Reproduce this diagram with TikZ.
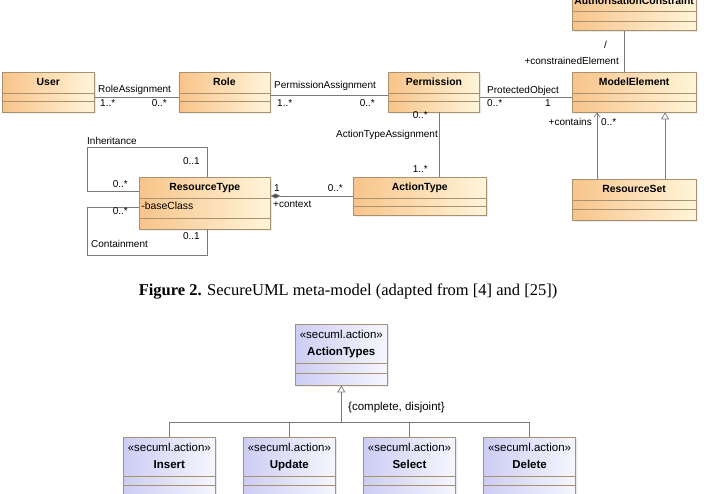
\documentclass[tikz,border=0pt]{standalone}
\usepackage{fontspec}
\setmainfont{Liberation Sans}
\newfontfamily\capfont{Liberation Serif}
\usetikzlibrary{arrows.meta,positioning,shapes.multipart,shadows}

\definecolor{clsOrange}{HTML}{F8C48A}
\definecolor{clsCream}{HTML}{FFF5DA}
\definecolor{clsLilac}{HTML}{CDCDF4}
\definecolor{clsPale}{HTML}{F6F6FF}
\definecolor{clsBorder}{HTML}{A8916F}
\definecolor{lineGray}{HTML}{7A7A7A}

% class body: bold title, two empty compartments
\newcommand{\clsbody}[3]{\rule[-7pt]{0pt}{20pt}\textbf{#1}\nodepart{two}\rule{0pt}{#2}\nodepart{three}\rule{0pt}{#3}}
% stereotyped action class
\newcommand{\actbody}[3]{\begin{tabular}{@{}c@{}}\rule{0pt}{14pt}«secuml.action»\\\rule[-7pt]{0pt}{20.04pt}\textbf{#1}\end{tabular}\nodepart{two}\rule{0pt}{#2}\nodepart{three}\rule{0pt}{#3}}

\begin{document}
\begin{tikzpicture}[x=1pt, y=-1pt,
cls/.style={rectangle split, rectangle split parts=3, rectangle split part align={center,left,center}, draw=clsBorder, line width=0.6pt, left color=clsOrange, right color=clsCream, inner xsep=2pt, inner ysep=0pt, font=\fontsize{10.4}{12}\selectfont, drop shadow={shadow xshift=1.5pt, shadow yshift=-1.5pt, fill=black!18}},
act/.style={cls, left color=clsLilac, right color=clsPale, minimum width=92pt, font=\fontsize{11.5}{13.2}\selectfont},
assoc/.style={draw=lineGray, line width=0.7pt},
gen/.style={assoc, -{Triangle[length=7pt, width=8pt, fill=white]}},
nav/.style={assoc, -{Straight Barb[length=4pt, width=6pt]}},
comp/.style={assoc, {Diamond[length=10pt, width=5pt, fill=black!70]}-},
lbl/.style={anchor=base west, inner sep=0pt, font=\fontsize{10}{12}\selectfont},
lblr/.style={lbl, anchor=base east}
]
\useasboundingbox (0,0) rectangle (704,494);

% SecureUML meta-model
\node[cls, minimum width=92pt, anchor=north west] (user) at (2,72) {\clsbody{User}{8pt}{10pt}};
\node[cls, minimum width=91pt, right=84pt of user] (role) {\clsbody{Role}{8pt}{10pt}};
\node[cls, minimum width=91pt, right=118pt of role] (perm) {\clsbody{Permission}{8pt}{10pt}};
\node[cls, minimum width=124pt, right=92pt of perm] (model) {\clsbody{ModelElement}{8pt}{10pt}};
\node[cls, minimum width=124pt, above=41pt of model] (auth) {\clsbody{AuthorisationConstraint}{9pt}{9pt}};
\node[cls, minimum width=124pt, below=67pt of model] (resset) {\clsbody{ResourceSet}{8pt}{11pt}};
\node[cls, minimum width=131pt, anchor=north west] (restype) at (139,177) {\rule[-7pt]{0pt}{20pt}\textbf{ResourceType}\nodepart{two}\rule[-9pt]{0pt}{20pt}-baseClass\nodepart{three}\rule{0pt}{10pt}};
\node[cls, minimum width=133pt, anchor=north west] (acttype) at (353,177) {\clsbody{ActionType}{8pt}{8pt}};

\draw[assoc] (user.east |- 0,97) -- (role.west |- 0,97);
\draw[assoc] (role.east |- 0,95) -- (perm.west |- 0,95);
\draw[assoc] (perm.east |- 0,97) -- (model.west |- 0,97);
\draw[assoc] ([xshift=-10pt]auth.south) -- ([xshift=-10pt]model.north);
\draw[nav] ([xshift=-37pt]resset.north) -- ([xshift=-37pt]model.south);
\draw[gen] ([xshift=31pt]resset.north) -- ([xshift=31pt]model.south);
\draw[assoc] (perm.south -| 439,0) -- (acttype.north -| 439,0);
\draw[comp] (restype.east |- 0,196) -- (acttype.west |- 0,196);
\draw[assoc] (restype.north -| 207,0) |- (87,147) |- (restype.west |- 0,191);
\draw[assoc] (restype.west |- 0,207) -| (87,255) -| (restype.south -| 207,0);

\node[lbl] (raName) at (98,93) {RoleAssignment};
\node[lbl] (raUser) at (100,107) {1..*};
\node[lblr] (raRole) at (167,107) {0..*};
\node[lbl] (paName) at (274,89) {PermissionAssignment};
\node[lbl] (paRole) at (277,107) {1..*};
\node[lblr] (paPerm) at (375,107) {0..*};
\node[lbl] (poName) at (487,94) {ProtectedObject};
\node[lbl] (poPerm) at (487,107) {0..*};
\node[lblr] (poModel) at (551,107) {1};
\node[lbl] (acSlash) at (604,49) {/};
\node[lblr] (acRole) at (619,65) {+constrainedElement};
\node[lblr] (rsRole) at (592,126) {+contains};
\node[lbl] (rsMult) at (601,126) {0..*};
\node[lblr] (ataPerm) at (428,119) {0..*};
\node[lblr] (ataName) at (438,138) {ActionTypeAssignment};
\node[lblr] (ataAct) at (428,173) {1..*};
\node[lbl] (ctxOne) at (274,192) {1};
\node[lbl] (ctxRole) at (273,208) {+context};
\node[lblr] (ctxMult) at (343,192) {0..*};
\node[lbl] (inhName) at (87,145) {Inheritance};
\node[lblr] (inhTop) at (200,165) {0..1};
\node[lblr] (inhLeft) at (128,188) {0..*};
\node[lblr] (conLeft) at (128,215) {0..*};
\node[lblr] (conBot) at (200,240) {0..1};
\node[lbl] (conName) at (91,248) {Containment};

\node[anchor=base] (caption) at (348,295) {\capfont\fontsize{16.5}{19}\selectfont\textbf{Figure 2.} SecureUML meta-model (adapted from [4] and [25])};

% action type hierarchy
\node[act, anchor=north west] (acttypes) at (295,324) {\actbody{ActionTypes}{10pt}{11pt}};
\node[act, anchor=north west] (insert) at (123,437) {\actbody{Insert}{9pt}{9pt}};
\node[act, right=27.5pt of insert] (update) {\actbody{Update}{9pt}{9pt}};
\node[act, right=27.5pt of update] (select) {\actbody{Select}{9pt}{9pt}};
\node[act, right=27.5pt of select] (delete) {\actbody{Delete}{9pt}{9pt}};

\coordinate (join) at (acttypes.south |- 0,422);
\draw[gen] (join) -- (acttypes.south);
\draw[assoc] (insert.north) |- (delete.north |- join) -- (delete.north);
\draw[assoc] (update.north) -- (update.north |- join);
\draw[assoc] (select.north) -- (select.north |- join);
\node[lbl, font=\fontsize{11.5}{13}\selectfont] (genSet) at (348,410) {\{complete, disjoint\}};
\end{tikzpicture}
\end{document}
